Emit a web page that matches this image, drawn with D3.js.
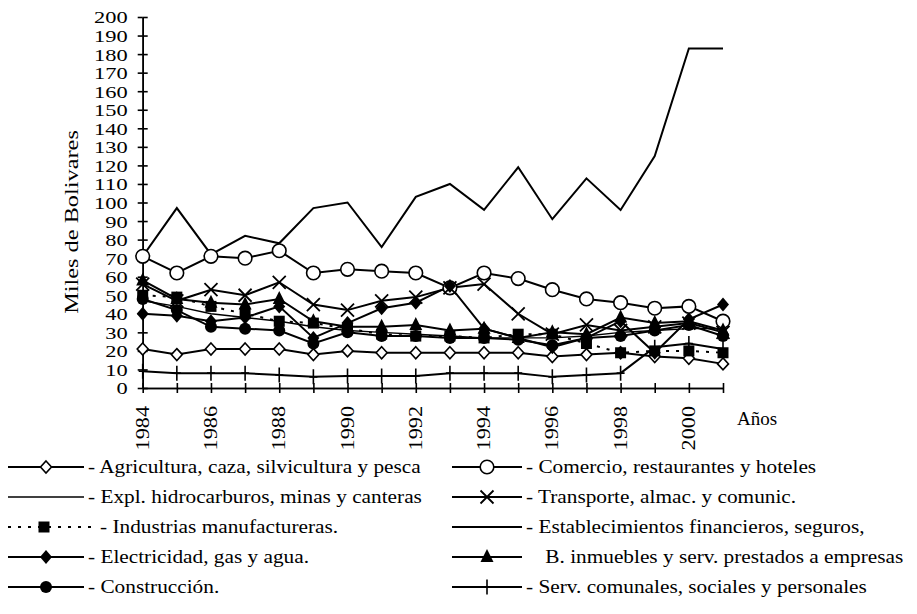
<!DOCTYPE html>
<html><head><meta charset="utf-8">
<script src="https://cdn.jsdelivr.net/npm/d3@7"></script>
<style>
body{margin:0;background:#fff}
text{font-family:"Liberation Serif","Times New Roman",serif;fill:#000}
</style>
</head><body>
<svg id="c" width="917" height="614"></svg>
<script>
// ---- data ----
const years = [1984,1985,1986,1987,1988,1989,1990,1991,1992,1993,1994,1995,1996,1997,1998,1999,2000,2001];
const yTickValues = [0,10,20,30,40,50,60,70,80,90,100,110,120,130,140,150,160,170,180,190,200];
const xLabelYears = [1984,1986,1988,1990,1992,1994,1996,1998,2000];

const agricultura   = [21,18,21,21,21,18,20,19,19,19,19,19,17,18,19,17,16,13];
const hidrocarburos = [47,44,40,38,36,33,31,30,29,28,27,27,27,28,30,31,32,32];
const industrias    = [50,49,44,40,36,35,32,29,28,28,27,29,29,24,19,20,20,19];
const electricidad  = [40,39,36,38,44,27,35,43,46,55,32,27,22,27,36,19,37,45];
const construccion  = [48,42,33,32,31,24,30,28,28,27,27,26,23,27,28,31,34,28];
const comercio      = [71,62,71,70,74,62,64,63,62,54,62,59,53,48,46,43,44,36];
const transporte    = [56,47,53,50,57,45,42,47,49,54,56,40,29,34,31,33,35,30];
const financieros   = [71,97,72,82,78,97,100,76,103,110,96,119,91,113,96,125,183,183];
const inmuebles     = [58,48,46,45,48,36,33,33,34,31,32,27,30,29,38,35,36,31];
const comunales     = [9,8,8,8,7,6,6.5,6.5,6.5,8,8,8,6,7,8,22,24,21];

const legendLeft  = ["- Agricultura, caza, silvicultura y pesca","- Expl. hidrocarburos, minas y canteras","- Industrias manufactureras.","- Electricidad, gas y agua.","- Construcción."];
const legendRight = ["- Comercio, restaurantes y hoteles","- Transporte, almac. y comunic.","- Establecimientos financieros, seguros,"," B. inmuebles y serv. prestados a empresas","- Serv. comunales, sociales y personales"];

// ---- markers ----
const M = {
  odiamond: g=>g.append("path").attr("d","M0,-6L5.5,0L0,6L-5.5,0Z").attr("fill","#fff").attr("stroke","#000").attr("stroke-width",1.6),
  fdiamond: g=>g.append("path").attr("d","M0,-7L6,0L0,7L-6,0Z").attr("fill","#000"),
  square:   g=>g.append("path").attr("d","M-5.5,-5.5H5.5V5.5H-5.5Z").attr("fill","#000"),
  fcircle:  g=>g.append("circle").attr("r",6).attr("fill","#000"),
  ocircle:  g=>g.append("circle").attr("r",6.8).attr("fill","#fff").attr("stroke","#000").attr("stroke-width",1.6),
  xmark:    g=>g.append("path").attr("d","M-6.5,-6.5L6.5,6.5M-6.5,6.5L6.5,-6.5").attr("stroke","#000").attr("stroke-width",1.8),
  triangle: g=>g.append("path").attr("d","M0,-8L6.5,5L-6.5,5Z").attr("fill","#000"),
  plus:     g=>g.append("path").attr("d","M0,-7.5V7.5M-4,0H4").attr("stroke","#000").attr("stroke-width",1.6),
  none:     g=>g
};

const series = [
  {name:legendLeft[0],  values:agricultura,   marker:"odiamond", dash:null, col:0,row:0, z:1},
  {name:legendLeft[1],  values:hidrocarburos, marker:"none",     dash:null, col:0,row:1, w:1.4, z:0},
  {name:legendLeft[2],  values:industrias,    marker:"square",   dash:"3,7", col:0,row:2, z:2},
  {name:legendLeft[3],  values:electricidad,  marker:"fdiamond", dash:null, col:0,row:3, z:2},
  {name:legendLeft[4],  values:construccion,  marker:"fcircle",  dash:null, col:0,row:4, z:2},
  {name:legendRight[0], values:comercio,      marker:"ocircle",  dash:null, col:1,row:0, z:0},
  {name:legendRight[1], values:transporte,    marker:"xmark",    dash:null, col:1,row:1, z:2},
  {name:legendRight[2], values:financieros,   marker:"none",     dash:null, col:1,row:2, z:0},
  {name:legendRight[3], values:inmuebles,     marker:"triangle", dash:null, col:1,row:3, indent:14, z:2},
  {name:legendRight[4], values:comunales,     marker:"plus",     dash:null, col:1,row:4, z:2}
];

const svg = d3.select("#c");
const x = d3.scaleLinear().domain([1984,2001]).range([142.7,723]);
const y = d3.scaleLinear().domain([0,200]).range([388,17]);

function stretch(sel,k){
  sel.each(function(){ const w=this.getComputedTextLength(); d3.select(this).attr("textLength",w*k).attr("lengthAdjust","spacingAndGlyphs"); });
}

// ---- axes ----
const yAxL = svg.append("g").attr("transform",`translate(${x(1984)},0)`)
  .call(d3.axisLeft(y).tickValues(yTickValues).tickSize(5).tickSizeOuter(0));
const yAxR = svg.append("g").attr("transform",`translate(${x(1984)},0)`)
  .call(d3.axisRight(y).tickValues(yTickValues).tickSize(5).tickSizeOuter(0).tickFormat(""));
[yAxL,yAxR].forEach(a=>{a.select(".domain").attr("stroke","#000").attr("stroke-width",1.6);a.selectAll(".tick line").attr("stroke","#000").attr("stroke-width",1.6);});
yAxL.selectAll(".tick text").attr("font-size",16.5).attr("font-family","Liberation Serif").attr("fill","#000").attr("x",-15).attr("dy","0.36em")
  .each(function(d){ const n=String(d).length; d3.select(this).attr("textLength",n*11.2).attr("lengthAdjust","spacingAndGlyphs"); });

const xAxB = svg.append("g").attr("transform",`translate(0,${y(0)})`)
  .call(d3.axisBottom(x).tickValues(years).tickSize(5).tickSizeOuter(0).tickFormat(""));
const xAxT = svg.append("g").attr("transform",`translate(0,${y(0)})`)
  .call(d3.axisTop(x).tickValues(years).tickSize(5).tickSizeOuter(0).tickFormat(""));
[xAxB,xAxT].forEach(a=>{a.select(".domain").attr("stroke","#000").attr("stroke-width",1.6);a.selectAll(".tick line").attr("stroke","#000").attr("stroke-width",1.6);});

const xl = svg.append("g").selectAll("text").data(xLabelYears).join("text")
  .attr("transform",d=>`translate(${x(d)+6},406) rotate(-90)`)
  .attr("text-anchor","end").attr("font-size",19).text(d=>d);
stretch(xl,1.17);

svg.append("text").attr("x",737).attr("y",425).attr("font-size",19).text("Años");
const yt = svg.append("text").attr("transform","translate(78,222) rotate(-90)")
  .attr("text-anchor","middle").attr("font-size",19).text("Miles de Bolivares");
stretch(yt,1.28);

// ---- lines ----
const line = d3.line().x((d,i)=>x(years[i])).y(d=>y(d));
const plot = svg.append("g");
series.forEach(s=>{
  plot.append("path").datum(s.values).attr("d",line).attr("fill","none")
    .attr("stroke","#000").attr("stroke-width",s.w||2).attr("stroke-dasharray",s.dash);
});
[0,1,2].forEach(z=>{
  series.filter(s=>s.z===z && s.marker!=="none").forEach(s=>{
    s.values.forEach((v,i)=>{
      const g = plot.append("g").attr("transform",`translate(${x(years[i])},${y(v)})`);
      M[s.marker](g);
    });
  });
});

// ---- legend ----
const rowY = [467,497,527,557,587];
series.forEach(s=>{
  const x0 = s.col===0 ? 8 : 452;
  const cy = rowY[s.row];
  const lg = svg.append("g");
  const len = s.dash ? 88 : (s.col===0 ? 76 : 70);
  lg.append("line").attr("x1",x0).attr("x2",x0+len).attr("y1",cy).attr("y2",cy)
    .attr("stroke","#000").attr("stroke-width",s.w||2).attr("stroke-dasharray",s.dash);
  const m = lg.append("g").attr("transform",`translate(${x0+(s.dash?36:len/2)},${cy})`);
  M[s.marker](m);
  const tx = lg.append("text").attr("x",x0+len+4+(s.indent||0)).attr("y",cy+6).attr("font-size",19).attr("xml:space","preserve").text(s.name);
  stretch(tx,1.12);
});
</script>
</body></html>
